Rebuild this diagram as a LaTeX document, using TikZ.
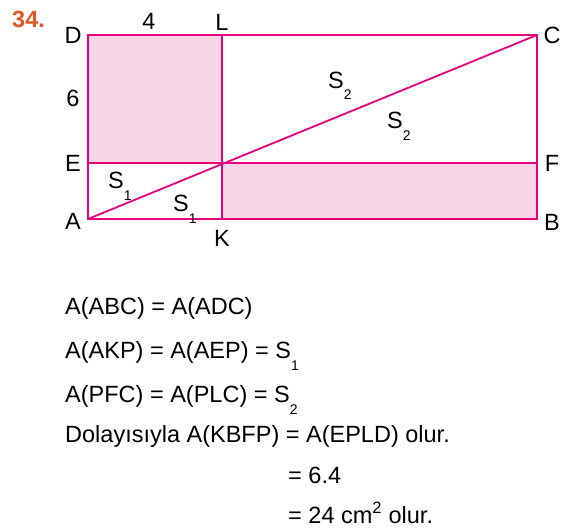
\documentclass[tikz,border=0pt]{standalone}
\usepackage{fontspec}
\setmainfont{Liberation Sans}
\usepackage{tikz}

\definecolor{pembe}{RGB}{230,0,126}
\definecolor{acikpembe}{RGB}{249,214,229}
\definecolor{turuncu}{RGB}{226,88,38}
\newcommand{\altind}[1]{\raisebox{-12pt}{\fontsize{14}{14}\selectfont #1}}

\begin{document}
\begin{tikzpicture}[x=1pt, y=-1pt, node distance={15pt},
    lbl/.style = {inner sep=0pt, font=\fontsize{23.5}{28}\selectfont},
    satir/.style = {anchor=base west, inner sep=0pt, font=\fontsize{23.5}{28}\selectfont},
    kenar/.style = {draw=pembe, line width=2pt},
    dolgu/.style = {fill=acikpembe, draw=pembe, line width=2.8pt}]
            \useasboundingbox (0,0) rectangle (567,527);

            \coordinate (A) at (88,219);
            \coordinate (B) at (537,219);
            \coordinate (C) at (537,35);
            \coordinate (D) at (88,35);
            \coordinate (E) at (88,163);
            \coordinate (F) at (537,163);
            \coordinate (K) at (222,219);
            \coordinate (L) at (222,35);
            \coordinate (P) at (222,163);

            \path[dolgu] (E) rectangle (L);
            \path[dolgu] (K) rectangle (F);
            \draw[kenar] (A) rectangle (C);
            \draw[pembe, line width=1.8pt] (A) -- (C);

            \node[lbl] (labD) [left of=D] {D};
            \node[lbl] (labE) [left of=E] {E};
            \node[lbl] (labA) [left of=A, yshift=-2pt] {A};
            \node[lbl] (labC) [right of=C] {C};
            \node[lbl] (labF) [right of=F] {F};
            \node[lbl] (labB) [right of=B, yshift=-3pt] {B};
            \node[lbl] (labL) [above of=L, yshift=-2pt] {L};
            \node[lbl] (labK) [below of=K, yshift=-4pt] {K};

            \node[lbl] (dort) at (149,21) {4};
            \node[lbl] (alti) at (73,98) {6};
            \node[satir, font=\fontsize{23.5}{28}\selectfont\bfseries, text=turuncu] (no) at (12,28) {34.};

            \node[satir] (s1a) at (108,188) {S\altind{1}};
            \node[satir] (s1b) at (173,211) {S\altind{1}};
            \node[satir] (s2a) at (328,88) {S\altind{2}};
            \node[satir] (s2b) at (387,128) {S\altind{2}};

            \node[satir] (r1) at (65,314) {A(ABC) = A(ADC)};
            \node[satir] (r2) at (65,358) {A(AKP) = A(AEP) = S\altind{1}};
            \node[satir] (r3) at (65,402) {A(PFC) = A(PLC) = S\altind{2}};
            \node[satir] (r4) at (65,442) {Dolayısıyla A(KBFP) = A(EPLD) olur.};
            \node[satir] (r5) at (288,483) {= 6.4};
            \node[satir] (r6) at (288,523) {= 24 cm\textsuperscript{2} olur.};

        \end{tikzpicture}
\end{document}
